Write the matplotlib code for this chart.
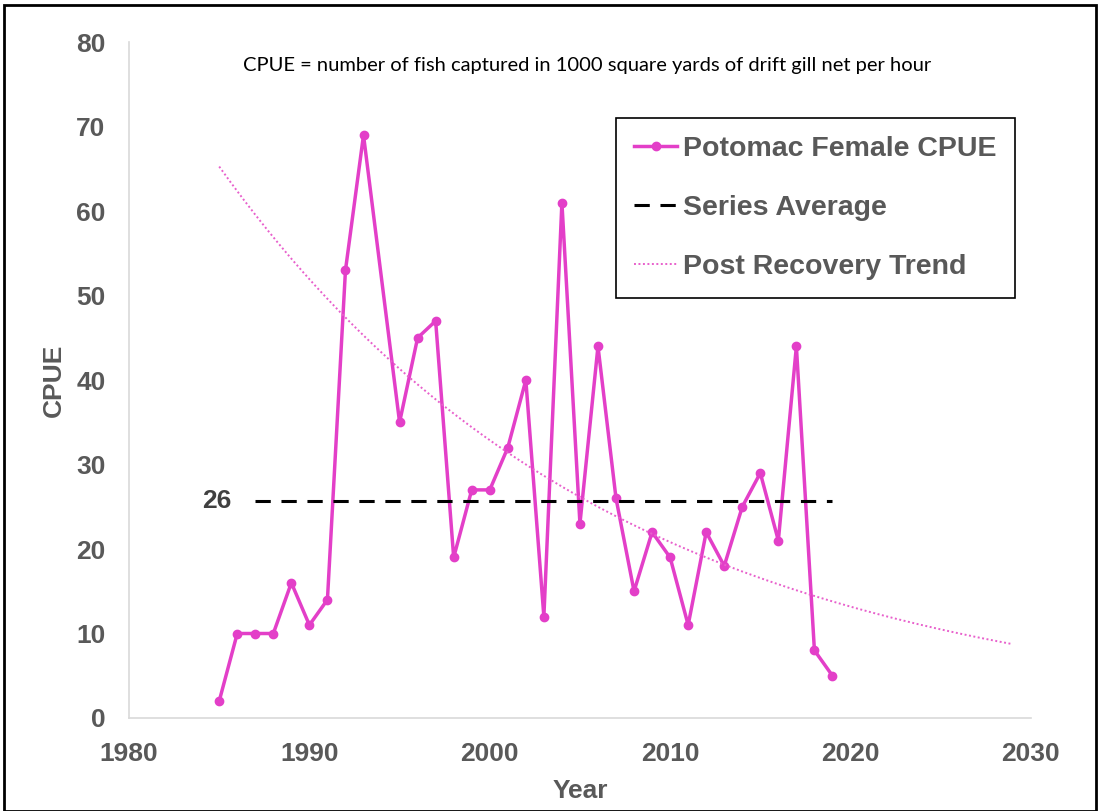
import numpy as np
import matplotlib
matplotlib.use("Agg")
import matplotlib.pyplot as plt
from matplotlib.patches import Rectangle

# dati (1994 manca)
years = [1985, 1986, 1987, 1988, 1989, 1990, 1991, 1992, 1993,
         1995, 1996, 1997, 1998, 1999, 2000, 2001, 2002, 2003, 2004,
         2005, 2006, 2007, 2008, 2009, 2010, 2011, 2012, 2013, 2014,
         2015, 2016, 2017, 2018, 2019]
cpue = [2, 10, 10, 10, 16, 11, 14, 53, 69,
        35, 45, 47, 19, 27, 27, 32, 40, 12, 61,
        23, 44, 26, 15, 22, 19, 11, 22, 18, 25,
        29, 21, 44, 8, 5]

recovery_start = 1993
avg_span = [1987, 2019]
trend_span = [1985, 2029]

years = np.array(years)
cpue = np.array(cpue, dtype=float)

# media della serie
avg = cpue.mean()

# trend esponenziale sui dati post recovery
mask = years >= recovery_start
b, a = np.polyfit(years[mask], np.log(cpue[mask]), 1)
tx = np.linspace(trend_span[0], trend_span[1], 200)
ty = np.exp(a + b * tx)

pink = "#E33FC8"
gray = "#595959"

fig = plt.figure(figsize=(10.99, 8.11), dpi=100)
ax = fig.add_axes([0.1174, 0.1147, 0.8206, 0.8333])

ax.plot(years, cpue, color=pink, lw=2.5, marker="o", ms=6,
        label="Potomac Female CPUE")
ax.plot(avg_span, [avg, avg], color="black", lw=2.2, ls=(0, (5, 3.5)),
        label="Series Average")
ax.plot(tx, ty, color="#E860CC", lw=1.4, ls=(0, (1, 1.3)),
        label="Post Recovery Trend")

ax.text(avg_span[0] - 1.3, avg, "%d" % round(avg), ha="right", va="center",
        fontsize=19, fontweight="bold", color="#404040",
        family="Liberation Sans")

ax.text(0.508, 0.966, "CPUE = number of fish captured in 1000 square yards of drift gill net per hour",
        transform=ax.transAxes, ha="center", va="center", fontsize=14.5,
        family=["Lato", "DejaVu Sans"], color="black")

ax.set_xlim(1980, 2030)
ax.set_ylim(0, 80)
ax.set_xticks(range(1980, 2031, 10))
ax.set_yticks(range(0, 81, 10))
ax.tick_params(length=0, pad=17, labelsize=19, labelcolor=gray)
for lab in ax.get_xticklabels() + ax.get_yticklabels():
    lab.set_fontweight("bold")
    lab.set_family("Liberation Sans")

for s in ["top", "right"]:
    ax.spines[s].set_visible(False)
for s in ["left", "bottom"]:
    ax.spines[s].set_color("#D9D9D9")
    ax.spines[s].set_linewidth(1.2)

ax.set_xlabel("Year", fontsize=19, fontweight="bold", color=gray,
              family="Liberation Sans", labelpad=10)
ax.set_ylabel("CPUE", fontsize=19, fontweight="bold", color=gray,
              family="Liberation Sans", labelpad=7)

leg = ax.legend(loc="upper right", bbox_to_anchor=(0.982, 0.888), borderaxespad=0,
                fancybox=False, edgecolor="black", framealpha=1, handlelength=1.5,
                handletextpad=0.2, labelspacing=1.15, borderpad=0.65,
                prop={"family": "Liberation Sans", "weight": "bold", "size": 20.5})
leg.get_frame().set_linewidth(1.2)
for t in leg.get_texts():
    t.set_color(gray)

# cornice esterna
fig.patches.append(Rectangle((0.004, 0.0), 0.993, 0.994, transform=fig.transFigure,
                             fill=False, edgecolor="black", lw=2))

plt.savefig("out.png", dpi=100)
print("Saved graph")
